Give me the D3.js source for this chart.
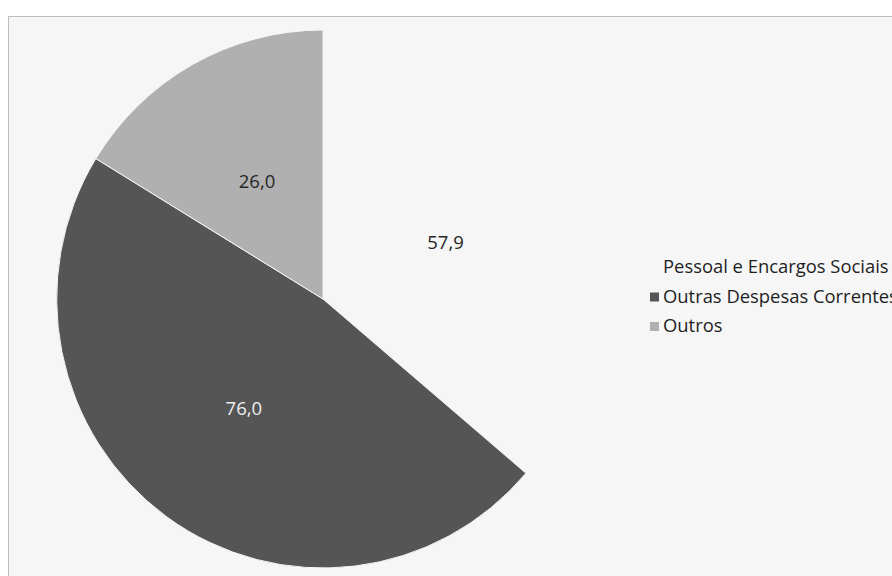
<!DOCTYPE html>
<html><head><meta charset="utf-8">
<script src="https://cdn.jsdelivr.net/npm/d3@7"></script>
<style>body{margin:0;background:#fff;}svg{display:block;}</style>
</head><body>
<script>
const categories = ["Pessoal e Encargos Sociais", "Outras Despesas Correntes", "Outros"];
const values = [57.9, 76.0, 26.0];
const valueLabels = ["57,9", "76,0", "26,0"];
const colors = ["#f6f6f6", "#555555", "#b0b0b0"];
const labelColors = ["#262626", "#eeeeee", "#262626"];

const W = 892, H = 576;
const svg = d3.select("body").append("svg").attr("width", W).attr("height", H);
svg.append("rect").attr("x", 8.5).attr("y", 16.5).attr("width", W + 10).attr("height", H + 10)
  .attr("fill", "#f6f6f6").attr("stroke", "#bdbdbd").attr("stroke-width", 1);

const cx = 323, cy = 299, r = 269;
const pie = d3.pie().sort(null).value(d => d)(values);
const arc = d3.arc().innerRadius(0).outerRadius(r);
const labelArc = d3.arc().innerRadius(135).outerRadius(135);
const g = svg.append("g").attr("transform", `translate(${cx},${cy})`);
g.append("g").attr("transform", "scale(0.99,1)")
  .selectAll("path").data(pie).join("path")
  .attr("d", arc).attr("fill", (d, i) => colors[i])
  .attr("stroke", "#f6f6f6").attr("stroke-width", 1);
g.selectAll("text").data(pie).join("text")
  .attr("transform", d => `translate(${labelArc.centroid(d)})`)
  .attr("text-anchor", "middle").attr("dy", "0.35em")
  .attr("font-family", "'Open Sans', sans-serif").attr("font-size", 18.5)
  .attr("font-weight", 500)
  .attr("fill", (d, i) => labelColors[i])
  .text((d, i) => valueLabels[i]);

const leg = svg.append("g").attr("transform", "translate(650,267)");
const items = leg.selectAll("g").data(categories).join("g")
  .attr("transform", (d, i) => `translate(0,${i * 29.5})`);
items.append("rect").attr("x", 0).attr("y", -4).attr("width", 9).attr("height", 9)
  .attr("fill", (d, i) => colors[i]);
items.append("text").attr("x", 13).attr("dy", "0.35em")
  .attr("font-family", "'Open Sans', sans-serif").attr("font-size", 18.4)
  .attr("fill", "#1e1e1e").text(d => d);
</script>
</body></html>
